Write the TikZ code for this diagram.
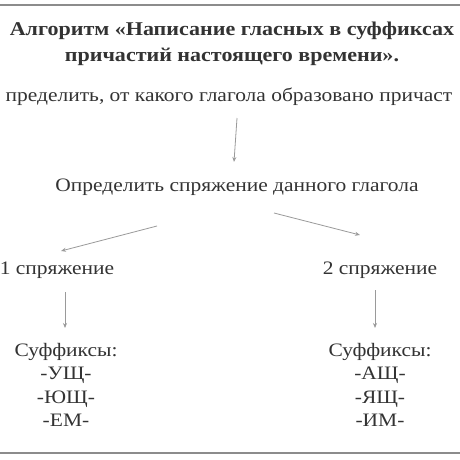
\documentclass[tikz,border=0pt]{standalone}
\usepackage{fontspec}
\setmainfont{Liberation Serif}[FakeStretch=1.13]
\usetikzlibrary{arrows.meta}
\definecolor{txt}{HTML}{333333}
\definecolor{arr}{HTML}{9A9A9A}
\definecolor{rule}{HTML}{8C8C8C}
\tikzset{
  ttl/.style={text=txt, font=\fontsize{19.5}{22}\selectfont\bfseries, inner sep=0pt, anchor=base},
  txtn/.style={text=txt, font=\fontsize{19}{22}\selectfont, inner sep=0pt, anchor=base},
  sfx/.style={text=txt, font=\fontsize{19}{23.5}\selectfont, inner sep=0pt, align=center, anchor=north},
  con/.style={draw=arr, line width=0.8pt, -{Stealth[length=5pt,width=4pt]}},
  hrule/.style={draw=rule, line width=1.6pt}
}
\begin{document}
\begin{tikzpicture}[x=1pt,y=-1pt]
\useasboundingbox (0,0) rectangle (460,460);
\fill[white] (0,0) rectangle (460,460);
\coordinate (tl) at (0,5); \coordinate (tr) at (460,5);
\coordinate (bl) at (0,453); \coordinate (br) at (460,453);
\draw[hrule] (tl) -- (tr);
\draw[hrule] (bl) -- (br);
\node[ttl] (t1) at (232,36) {Алгоритм «Написание гласных в суффиксах};
\node[ttl] (t2) at (232,61) {причастий настоящего времени».};
\node[txtn] (s1) at (229,101) {пределить, от какого глагола образовано причаст};
\node[txtn] (s2) at (237,191) {Определить спряжение данного глагола};
\node[txtn] (c1) at (57,274) {1 спряжение};
\node[txtn] (c2) at (380,274) {2 спряжение};
\node[sfx] (f1) at (66,343) {Суффиксы:\\-УЩ-\\-ЮЩ-\\-ЕМ-};
\node[sfx] (f2) at (380,343) {Суффиксы:\\-АЩ-\\-ЯЩ-\\-ИМ-};
\coordinate (a1s) at (237,118); \coordinate (a1e) at (234,162);
\coordinate (a2s) at (157,226); \coordinate (a2e) at (61,251);
\coordinate (a3s) at (274,213); \coordinate (a3e) at (360,235);
\coordinate (a4s) at (65,292); \coordinate (a4e) at (65,328);
\coordinate (a5s) at (375,290); \coordinate (a5e) at (375,328);
\draw[con] (a1s) -- (a1e);
\draw[con] (a2s) -- (a2e);
\draw[con] (a3s) -- (a3e);
\draw[con] (a4s) -- (a4e);
\draw[con] (a5s) -- (a5e);
\end{tikzpicture}
\end{document}
